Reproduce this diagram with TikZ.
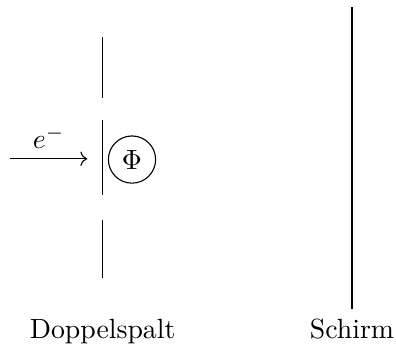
\documentclass[tikz,border=0pt]{standalone}
\usetikzlibrary{arrows.meta, positioning}
\begin{document}
\begin{tikzpicture}[
  every node/.style={font=\normalsize},
  wall/.style={line width=0.4pt},
  phasenode/.style={circle, draw, inner sep=2.5pt}
]
  \useasboundingbox (0,0) rectangle (5.013,-4.430);
  \coordinate (src) at (0.127,-2.010);
  \coordinate (tip) at (1.105,-2.010);
  \coordinate (s1a) at (1.299,-0.468);
  \coordinate (s1b) at (1.299,-1.241);
  \coordinate (s2a) at (1.299,-1.519);
  \coordinate (s2b) at (1.299,-2.468);
  \coordinate (s3a) at (1.299,-2.785);
  \coordinate (s3b) at (1.299,-3.519);
  \coordinate (scra) at (4.456,-0.089);
  \coordinate (scrb) at (4.456,-3.911);
  \draw[wall] (s1a) -- (s1b);
  \draw[wall] (s2a) -- (s2b);
  \draw[wall] (s3a) -- (s3b);
  \draw[wall] (scra) -- (scrb);
  \draw[->] (src) -- node[above] (elab) {$e^-$} (tip);
  \node[phasenode] (phi) at (1.671,-2.020) {$\Phi$};
  \node[below] (slitlab) at (1.299,-3.911) {Doppelspalt};
  \node[below] (scrlab) at (scrb) {Schirm};
\end{tikzpicture}
\end{document}
